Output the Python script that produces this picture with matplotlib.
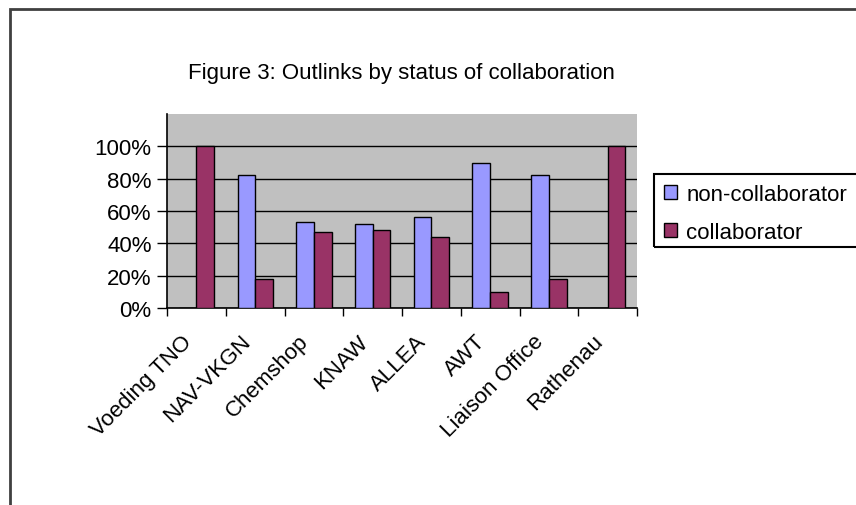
import numpy as np
import matplotlib
matplotlib.use('Agg')
import matplotlib.pyplot as plt
import matplotlib.transforms as mtransforms
from matplotlib.patches import Rectangle
from matplotlib.ticker import FixedLocator, PercentFormatter

categories = ['Voeding TNO', 'NAV-VKGN', 'Chemshop', 'KNAW', 'ALLEA',
              'AWT', 'Liaison Office', 'Rathenau']
non_collab = [0.0, 0.82, 0.53, 0.52, 0.56, 0.90, 0.82, 0.0]
collab = [1.0, 0.18, 0.47, 0.48, 0.44, 0.10, 0.18, 1.0]
y_ticks = [0, 0.2, 0.4, 0.6, 0.8, 1.0]

plt.rcParams['font.family'] = ['Liberation Sans', 'DejaVu Sans']
fs = 16

W, H = 856, 506
fig = plt.figure(figsize=(W / 100, H / 100), dpi=100)
fig.patch.set_facecolor('white')

# outer chart frame (runs off the right and bottom edge)
fig.patches.append(Rectangle((10 / W, -1.0), 3.0, 2 - 10 / H,
                             transform=fig.transFigure, fill=False,
                             edgecolor='#404040', lw=2))

ax = fig.add_axes([167 / W, 1 - 309 / H, (637 - 167) / W, (309 - 115) / H])
ax.set_facecolor('#C0C0C0')

x = np.arange(len(categories)) + 0.5
w = 0.3
ax.bar(x - w / 2, non_collab, w, color='#9999FF', edgecolor='black',
       linewidth=1, label='non-collaborator', zorder=3)
ax.bar(x + w / 2, collab, w, color='#993366', edgecolor='black',
       linewidth=1, label='collaborator', zorder=3)

ax.set_xlim(0, len(categories))
ax.set_ylim(0, 1.2)
ax.yaxis.set_major_locator(FixedLocator(y_ticks))
ax.yaxis.set_major_formatter(PercentFormatter(1.0, decimals=0))
ax.grid(axis='y', color='black', linewidth=1, zorder=1)
ax.set_axisbelow(True)

# tick marks sit between categories, labels are placed by hand
ax.set_xticks(np.arange(len(categories) + 1))
ax.set_xticklabels([])
ax.tick_params(axis='x', which='major', length=6, width=1, direction='out')
ax.tick_params(axis='y', length=7, width=1, labelsize=fs, pad=4)

shift = mtransforms.ScaledTranslation(-8 / 100, -30 / 100, fig.dpi_scale_trans)
lab_trans = ax.get_xaxis_transform() + shift
for xi, name in zip(x, categories):
    ax.text(xi, 0, name, transform=lab_trans, rotation=45, ha='right',
            va='center', rotation_mode='anchor', fontsize=fs, clip_on=False)

for s in ['top', 'right']:
    ax.spines[s].set_visible(False)
for s in ['left', 'bottom']:
    ax.spines[s].set_color('black')
    ax.spines[s].set_linewidth(1.2)

fig.text(401 / W, 1 - 73 / H, 'Figure 3: Outlinks by status of collaboration',
         ha='center', va='center', fontsize=fs)

# legend box runs past the right edge of the picture
leg = ax.legend(loc='upper left', bbox_to_anchor=(654 / W, 1 - 175 / H),
                bbox_transform=fig.transFigure, borderaxespad=0,
                fontsize=fs, frameon=False,
                handlelength=0.6, handleheight=0.6, handletextpad=0.4,
                labelspacing=0.75, borderpad=0.45)
for h in leg.legend_handles:
    h.set_edgecolor('black')
fig.patches.append(Rectangle((654 / W, 1 - 248 / H), 0.5, 73 / H,
                             transform=fig.transFigure, fill=False,
                             edgecolor='black', lw=1.5))

fig.savefig('out.png', dpi=100)
